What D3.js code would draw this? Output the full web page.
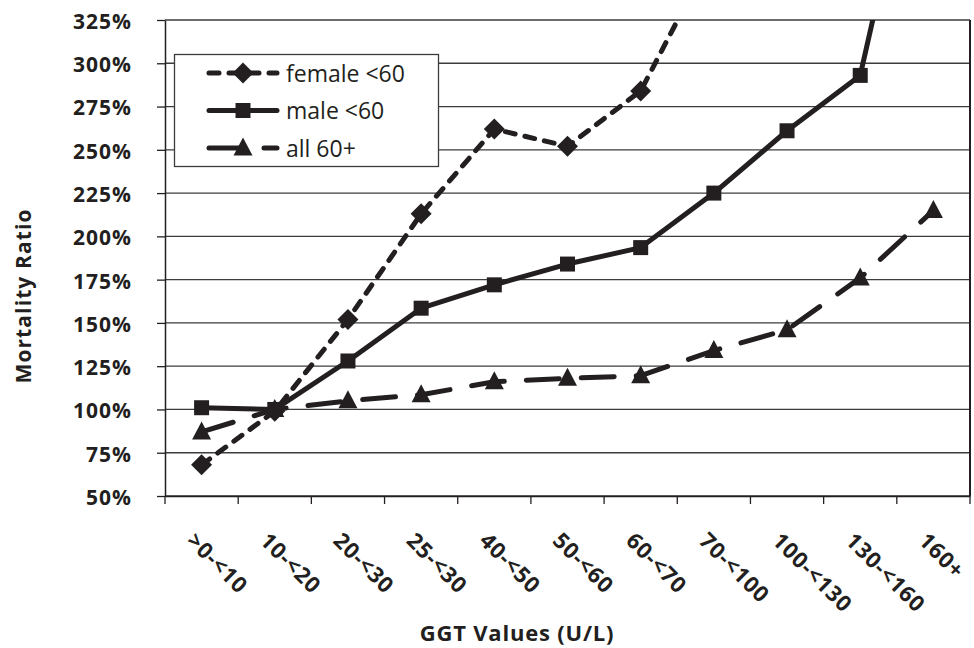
<!DOCTYPE html>
<html>
<head>
<meta charset="utf-8">
<script src="https://cdn.jsdelivr.net/npm/d3@7/dist/d3.min.js"></script>
<style>
  html, body { margin: 0; padding: 0; background: #ffffff; }
  svg { display: block; }
  text { font-family: "Open Sans", "Noto Sans", sans-serif; fill: #231f20; }
</style>
</head>
<body>
<svg id="chart" width="974" height="648"></svg>
<script>
// ---- data ----
const categories = [">0-<10", "10-<20", "20-<30", "25-<30", "40-<50", "50-<60", "60-<70", "70-<100", "100-<130", "130-<160", "160+"];
const female60 = [68, 99, 152, 213, 262, 252, 284, 365, null, null, null];
const male60 = [101, 100, 128, 158.5, 172, 184, 193.5, 225, 261, 293, 480];
const all60plus = [87, 100, 105, 108.5, 116, 118, 119.5, 134, 146, 176, 215];
const yTicks = [50, 75, 100, 125, 150, 175, 200, 225, 250, 275, 300, 325];
const seriesNames = ["female <60", "male <60", "all 60+"];

// ---- layout ----
const plotL = 165, plotR = 970, plotT = 20, plotB = 496;
const ink = "#231f20";

const svg = d3.select("#chart");
const x = d3.scaleBand().domain(categories).range([plotL, plotR]);
const y = d3.scaleLinear().domain([50, 325]).range([plotB, plotT]);

// gridlines
svg.append("g")
  .selectAll("line")
  .data(yTicks)
  .join("line")
  .attr("x1", plotL).attr("x2", plotR)
  .attr("y1", d => y(d)).attr("y2", d => y(d))
  .attr("stroke", "#3c3c3c").attr("stroke-width", 1.3);

// right border
svg.append("line")
  .attr("x1", plotR).attr("x2", plotR).attr("y1", plotT).attr("y2", plotB)
  .attr("stroke", ink).attr("stroke-width", 2);

// y axis
const yAxis = svg.append("g")
  .attr("transform", `translate(${plotL},0)`)
  .call(d3.axisLeft(y).tickValues(yTicks).tickSize(8).tickSizeOuter(0).tickPadding(25).tickFormat(d => d + "%"));
yAxis.select(".domain").attr("stroke", ink).attr("stroke-width", 1.5);
yAxis.selectAll(".tick line").attr("stroke", ink).attr("stroke-width", 1.3);
yAxis.selectAll(".tick text")
  .attr("font-size", 21).attr("font-weight", "bold").attr("letter-spacing", 1)
  .attr("dy", "0.4em").style("fill", ink).style("font-family", '"Open Sans", sans-serif');

// x axis
const xAxis = svg.append("g")
  .attr("transform", `translate(0,${plotB})`)
  .call(d3.axisBottom(x).tickSize(0).tickSizeOuter(0).tickPadding(0));
xAxis.select(".domain").attr("stroke", ink).attr("stroke-width", 1.5);
xAxis.selectAll(".tick text")
  .attr("text-anchor", "start")
  .attr("font-size", 22).attr("font-weight", "bold").attr("letter-spacing", 0.8)
  .attr("x", 0).attr("y", 0).attr("dy", 0)
  .attr("transform", "translate(-16,46) rotate(45)")
  .style("fill", ink).style("font-family", '"Open Sans", sans-serif');
// boundary ticks
const bounds = categories.map(c => x(c)).concat([plotR]);
svg.append("g")
  .selectAll("line")
  .data(bounds)
  .join("line")
  .attr("x1", d => d).attr("x2", d => d)
  .attr("y1", plotB).attr("y2", plotB + 8)
  .attr("stroke", ink).attr("stroke-width", 1.3);

// axis titles
svg.append("text")
  .attr("transform", `translate(31,296) rotate(-90)`)
  .attr("text-anchor", "middle")
  .attr("font-size", 21).attr("font-weight", "bold").attr("letter-spacing", 1.1)
  .text("Mortality Ratio");
svg.append("text")
  .attr("x", 517).attr("y", 641)
  .attr("text-anchor", "middle")
  .attr("font-size", 22).attr("font-weight", "bold").attr("letter-spacing", 0.8)
  .text("GGT Values (U/L)");

// clip
svg.append("defs").append("clipPath").attr("id", "plotclip")
  .append("rect").attr("x", plotL).attr("y", plotT).attr("width", plotR - plotL + 10).attr("height", plotB - plotT + 10);

const cx = c => x(c) + x.bandwidth() / 2;
const series = [
  { name: seriesNames[0], values: female60, dash: "10,10", marker: "diamond" },
  { name: seriesNames[1], values: male60, dash: null, marker: "square" },
  { name: seriesNames[2], values: all60plus, dash: "33,22", marker: "triangle" }
];

const symbolPath = {
  diamond: "M0,-10.5 L10.5,0 L0,10.5 L-10.5,0 Z",
  square: "M-7.5,-7.5 L7.5,-7.5 L7.5,7.5 L-7.5,7.5 Z",
  triangle: "M0,-10.5 L9.5,7.5 L-9.5,7.5 Z"
};

const line = d3.line()
  .defined(d => d.v != null)
  .x(d => cx(d.c))
  .y(d => y(d.v));

const plot = svg.append("g").attr("clip-path", "url(#plotclip)");
series.forEach(s => {
  const pts = categories.map((c, i) => ({ c, v: s.values[i] }));
  plot.append("path")
    .datum(pts)
    .attr("d", line)
    .attr("fill", "none")
    .attr("stroke", ink)
    .attr("stroke-width", 5)
    .attr("stroke-linecap", s.dash ? "round" : "butt")
    .attr("stroke-linejoin", "round")
    .attr("stroke-dasharray", s.dash);
  plot.append("g")
    .selectAll("path")
    .data(pts.filter(d => d.v != null && d.v <= 325))
    .join("path")
    .attr("d", symbolPath[s.marker])
    .attr("transform", d => `translate(${cx(d.c)},${y(d.v)})`)
    .attr("fill", ink);
});

// legend
const lg = svg.append("g");
lg.append("rect")
  .attr("x", 174.5).attr("y", 54.5).attr("width", 264).attr("height", 112)
  .attr("fill", "#ffffff").attr("stroke", "#3c3c3c").attr("stroke-width", 1.3);
const rowY = [73, 110.5, 148];
series.forEach((s, i) => {
  lg.append("line")
    .attr("x1", 209).attr("x2", 277)
    .attr("y1", rowY[i]).attr("y2", rowY[i])
    .attr("stroke", ink).attr("stroke-width", 5)
    .attr("stroke-linecap", "round")
    .attr("stroke-dasharray", s.dash);
  lg.append("path")
    .attr("d", symbolPath[s.marker])
    .attr("transform", `translate(243,${rowY[i]})`)
    .attr("fill", ink);
  lg.append("text")
    .attr("x", 286).attr("y", rowY[i] + 8.5)
    .attr("font-size", 23)
    .text(s.name);
});
</script>
</body>
</html>
